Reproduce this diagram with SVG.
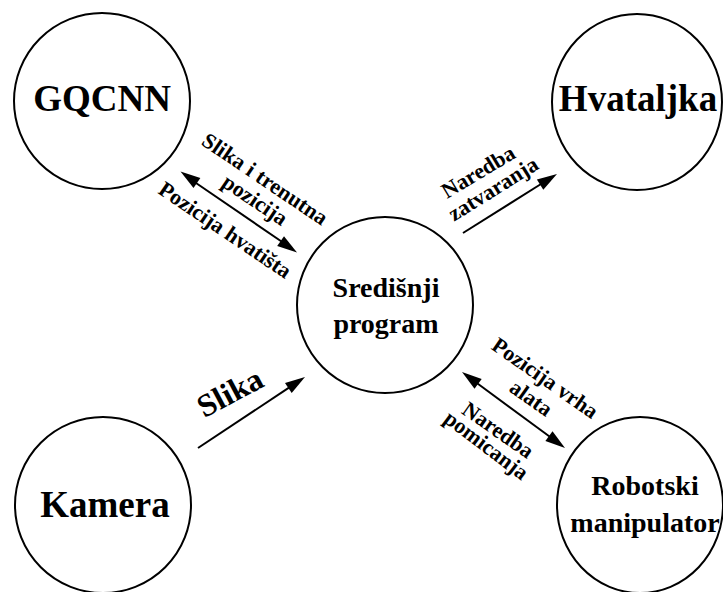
<svg xmlns="http://www.w3.org/2000/svg" width="723" height="592" viewBox="0 0 723 592" font-family="Liberation Serif">
<style>
  .node { fill: #ffffff; stroke: #000000; stroke-width: 2; }
  .conn { stroke: #000000; stroke-width: 2; fill: none; }
  .head { fill: #000000; stroke: none; }
  .big { font-family: 'Liberation Serif', serif !important; font-weight: bold; font-size: 37px; text-anchor: middle; }
  .mid { font-family: 'Liberation Serif', serif !important; font-weight: bold; font-size: 28px; text-anchor: middle; }
  .lbl { font-family: 'Liberation Serif', serif !important; font-weight: bold; font-size: 22px; text-anchor: middle; }
  .lblbig { font-family: 'Liberation Serif', serif !important; font-weight: bold; font-size: 32px; text-anchor: middle; }
</style>
<rect width="723" height="592" fill="#ffffff"/>

<g id="gqcnn">
  <circle class="node" cx="102" cy="101" r="88"/>
  <text class="big" font-family="Liberation Serif" x="102" y="111">GQCNN</text>
</g>
<g id="hvataljka">
  <ellipse class="node" cx="637" cy="102" rx="85" ry="88"/>
  <text class="big" font-family="Liberation Serif" x="638" y="111">Hvataljka</text>
</g>
<g id="sredisnji">
  <circle class="node" cx="385" cy="305" r="88"/>
  <text class="mid" font-family="Liberation Serif" x="386" y="297">Središnji</text>
  <text class="mid" font-family="Liberation Serif" x="386" y="333">program</text>
</g>
<g id="kamera">
  <circle class="node" cx="103" cy="505" r="88"/>
  <text class="big" font-family="Liberation Serif" x="105" y="517">Kamera</text>
</g>
<g id="robotski">
  <ellipse class="node" cx="640" cy="505" rx="83" ry="88"/>
  <text class="mid" font-family="Liberation Serif" x="645" y="495">Robotski</text>
  <text class="mid" font-family="Liberation Serif" x="645" y="532">manipulator</text>
</g>

<g id="connectors">
  <line class="conn" x1="196" y1="183" x2="281.5" y2="241.5"/>
  <polygon class="head" points="180.5,171.5 193.5,187.9 200.4,178"/>
  <polygon class="head" points="297,252.5 277.2,246 284,236.2"/>

  <line class="conn" x1="463" y1="233" x2="541" y2="184"/>
  <polygon class="head" points="557,174 543.3,189.7 536.9,179.6"/>

  <line class="conn" x1="198" y1="448" x2="289" y2="387.6"/>
  <polygon class="head" points="305,377 291.7,393.1 285,383.1"/>

  <line class="conn" x1="477.5" y1="383.5" x2="549.5" y2="436.5"/>
  <polygon class="head" points="462,372 474.5,388.7 481.7,379"/>
  <polygon class="head" points="565,448 545.4,441 552.5,431.3"/>

  <text class="lbl" font-family="Liberation Serif" transform="translate(261,185) rotate(34)">Slika i trenutna</text>
  <text class="lbl" font-family="Liberation Serif" transform="translate(251,206) rotate(34)">pozicija</text>
  <text class="lbl" font-family="Liberation Serif" transform="translate(221,236) rotate(34)">Pozicija hvatišta</text>

  <text class="lbl" font-family="Liberation Serif" transform="translate(482,178) rotate(-31)">Naredba</text>
  <text class="lbl" font-family="Liberation Serif" transform="translate(497,195) rotate(-32)">zatvaranja</text>

  <text class="lblbig" font-family="Liberation Serif" transform="translate(235,402) rotate(-28)">Slika</text>

  <text class="lbl" font-family="Liberation Serif" transform="translate(541,384) rotate(35)">Pozicija vrha</text>
  <text class="lbl" font-family="Liberation Serif" transform="translate(527,404) rotate(35)">alata</text>
  <text class="lbl" font-family="Liberation Serif" transform="translate(494,436) rotate(35)">Naredba</text>
  <text class="lbl" font-family="Liberation Serif" transform="translate(482,451) rotate(37)">pomicanja</text>
</g>
</svg>
